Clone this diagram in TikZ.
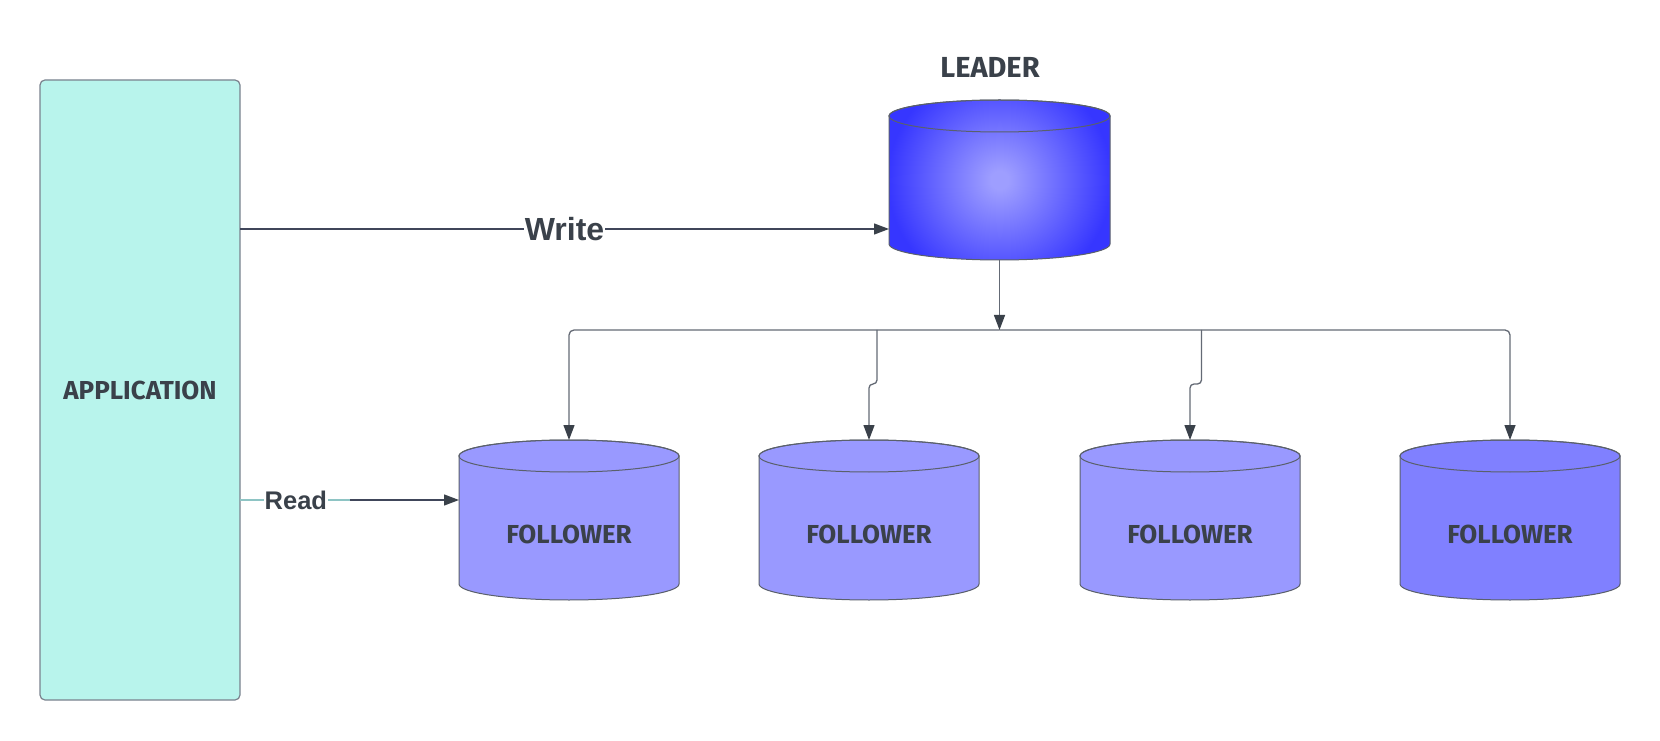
\documentclass[tikz,border=0pt]{standalone}
\usepackage{fontspec}
\setmainfont{Liberation Sans}
\newfontfamily\handfont{Fira Sans}
\usetikzlibrary{arrows.meta}
\definecolor{ink}{HTML}{3A414A}
\definecolor{wire}{HTML}{646A75}
\definecolor{wiredark}{HTML}{40465A}
\definecolor{edge}{HTML}{5A606B}
\definecolor{appfill}{HTML}{B8F4EC}
\definecolor{appedge}{HTML}{7A828E}
\definecolor{folA}{HTML}{9999FF}
\definecolor{folB}{HTML}{8080FF}
\definecolor{leadIn}{HTML}{9E9EFF}
\definecolor{leadOut}{HTML}{3636FF}
\definecolor{readlight}{HTML}{8EC4C4}
\pgfdeclareradialshading{leadshade}{\pgfpoint{0bp}{0bp}}{color(0bp)=(leadIn); color(2bp)=(leadIn); color(25bp)=(leadOut); color(50bp)=(leadOut)}
\newcommand\cylpath[2]{([yshift=16pt]#1.south west) -- ([yshift=-16pt]#1.north west)
    arc[start angle=180,end angle=0,x radius=#2,y radius=16pt]
    -- ([yshift=16pt]#1.south east)
    arc[start angle=0,end angle=-180,x radius=#2,y radius=16pt] -- cycle}
\newcommand\cyltop[2]{\draw[cylline] ([yshift=-16pt]#1.north) ellipse[x radius=#2,y radius=16pt];}
\tikzset{
  cylbox/.style={minimum width=220pt, minimum height=160pt, inner sep=0pt, outer sep=0pt},
  cylline/.style={draw=edge, line width=1pt},
  cyltext/.style={font=\handfont\bfseries\fontsize{26}{30}\selectfont, text=ink},
  appbox/.style={draw=appedge, fill=appfill, line width=1.2pt, rounded corners=5pt,
    minimum width=200pt, minimum height=620pt, inner sep=0pt, outer sep=0pt,
    font=\handfont\bfseries\fontsize{26}{30}\selectfont, text=ink},
  tip/.style={-{Triangle[length=15pt,width=11pt,color=ink,fill=ink]}},
  conn/.style={draw=wiredark, line width=1.3pt, tip},
  branch/.style={draw=wire, line width=1.3pt, tip},
  lbl/.style={fill=white, inner xsep=1pt, inner ysep=0pt, text=ink, font=\bfseries},
}
\begin{document}
\begin{tikzpicture}[x=1pt,y=1pt]
\useasboundingbox (0,0) rectangle (1660,740);
\fill[white] (0,0) rectangle (1660,740);

% application
\node[appbox] (app) at (140,350) {APPLICATION};

% leader
\node[cylbox, minimum width=221pt] (lead) at (999.5,560) {};
\begin{scope}
  \clip \cylpath{lead}{110.5pt};
  \shade[shading=leadshade] ([shift={(-112,-112)}]lead.center) rectangle ([shift={(112,112)}]lead.center);
\end{scope}
\draw[cylline] \cylpath{lead}{110.5pt};
\cyltop{lead}{110.5pt}
\node[font=\handfont\bfseries\fontsize{29}{32}\selectfont, text=ink] (leadlbl) at (990,673) {LEADER};

% followers
\node[cylbox] (f1) at (569,220) {};
\node[cylbox] (f2) at (869,220) {};
\node[cylbox] (f3) at (1190,220) {};
\node[cylbox] (f4) at (1510,220) {};
\draw[cylline, fill=folA] \cylpath{f1}{110pt}; \cyltop{f1}{110pt}
\draw[cylline, fill=folA] \cylpath{f2}{110pt}; \cyltop{f2}{110pt}
\draw[cylline, fill=folA] \cylpath{f3}{110pt}; \cyltop{f3}{110pt}
\draw[cylline, fill=folB] \cylpath{f4}{110pt}; \cyltop{f4}{110pt}
\node[cyltext] (f1t) at (569,206) {FOLLOWER};
\node[cyltext] (f2t) at (869,206) {FOLLOWER};
\node[cyltext] (f3t) at (1190,206) {FOLLOWER};
\node[cyltext] (f4t) at (1510,206) {FOLLOWER};

% write
\coordinate (wy) at (0,511);
\draw[conn] (wy -| app.east) -- node[lbl, font=\bfseries\fontsize{32}{36}\selectfont] (writelbl) {Write} (wy -| lead.west);

% read
\coordinate (ry) at (0,240);
\draw[conn] (ry -| app.east) -- (ry -| f1.west);
\draw[readlight, line width=1.3pt] (ry -| app.east) -- ++(110,0);
\path (ry -| app.east) -- node[lbl, pos=0.255, font=\bfseries\fontsize{25.5}{30}\selectfont] (readlbl) {Read} (ry -| f1.west);

% leader to bus
\coordinate (bus) at (999.5,410);
\coordinate (j2) at (877,356);
\coordinate (j3) at (1201.5,356);
\draw[branch, rounded corners=5pt] (bus) -| (f1.north);
\draw[branch, rounded corners=5pt] (bus) -| (f4.north);
\draw[branch, rounded corners=4pt] (bus -| j2) -- (j2) -| (f2.north);
\draw[branch, rounded corners=4pt] (bus -| j3) -- (j3) -| (f3.north);
\draw[branch] (lead.south) -- (bus);
\end{tikzpicture}
\end{document}
